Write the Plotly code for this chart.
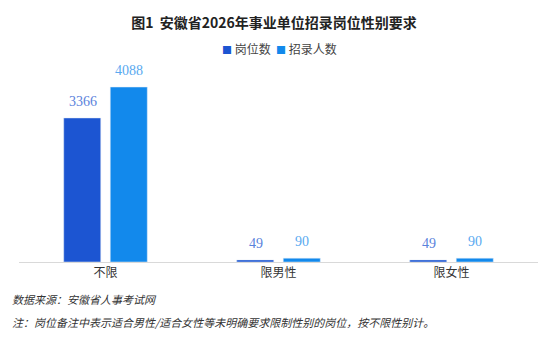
import plotly.graph_objects as go

categories = ["不限", "限男性", "限女性"]
posts = [3366, 49, 49]
hires = [4088, 90, 90]
series_names = ["岗位数", "招录人数"]
title_text = "<b>图1  安徽省2026年事业单位招录岗位性别要求</b>"
source_text = "数据来源：安徽省人事考试网"
note_text = "注：岗位备注中表示适合男性/适合女性等未明确要求限制性别的岗位，按不限性别计。"

c1 = "#1c55d2"
c2 = "#1289ec"
lab1 = "#5a82dc"
lab2 = "#5aa9f0"

fig = go.Figure()
fig.add_trace(go.Bar(x=categories, y=posts, name=series_names[0], marker_color=c1, showlegend=False))
fig.add_trace(go.Bar(x=categories, y=hires, name=series_names[1], marker_color=c2, showlegend=False))

annotations = []
for cat, v in zip(categories, posts):
    annotations.append(dict(x=cat, y=v, xref="x", yref="y", text=str(v), showarrow=False,
                            xshift=-23, yshift=16, font=dict(family="Liberation Serif", size=14, color=lab1)))
for cat, v in zip(categories, hires):
    annotations.append(dict(x=cat, y=v, xref="x", yref="y", text=str(v), showarrow=False,
                            xshift=23, yshift=17, font=dict(family="Liberation Serif", size=14, color=lab2)))

L, R, T, B = 19, 10, 48, 75
W, H = 548, 337
pw, ph = W - L - R, H - T - B

def px_x(x):
    return (x - L) / pw

def px_y(y):
    return (H - B - y) / ph

legend_text = "  ".join(
    f"<span style='color:{c}; font-size:10px'>■</span> {n}" for c, n in zip([c1, c2], series_names)
)
annotations.append(dict(x=px_x(279), y=px_y(49), xref="paper", yref="paper", text=legend_text,
                        showarrow=False, xanchor="center", yanchor="middle",
                        font=dict(family="Noto Sans CJK SC", size=12, color="#444")))

annotations.append(dict(x=px_x(10), y=px_y(299), xref="paper", yref="paper", text="<i>" + source_text + "</i>",
                        showarrow=False, xanchor="left", yanchor="middle",
                        font=dict(family="Noto Sans CJK SC", size=11, color="#333")))
annotations.append(dict(x=px_x(10), y=px_y(322), xref="paper", yref="paper", text="<i>" + note_text + "</i>",
                        showarrow=False, xanchor="left", yanchor="middle",
                        font=dict(family="Noto Sans CJK SC", size=11, color="#333")))

fig.update_layout(
    width=W, height=H,
    margin=dict(l=L, r=R, t=T, b=B),
    paper_bgcolor="white", plot_bgcolor="white",
    title=dict(text=title_text, x=0.5, xanchor="center", y=1 - 23 / H, yanchor="middle",
               font=dict(family="Noto Sans CJK SC", size=14, color="#222")),
    bargap=0.462, bargroupgap=0.204,
    xaxis=dict(showline=True, linecolor="#d9d9d9", linewidth=1, ticks="",
               tickfont=dict(family="Noto Sans CJK SC", size=12, color="#333"), showgrid=False),
    yaxis=dict(range=[0, 5000], visible=False, showgrid=False),
    annotations=annotations,
    showlegend=False,
)

fig.write_html("out.html")
